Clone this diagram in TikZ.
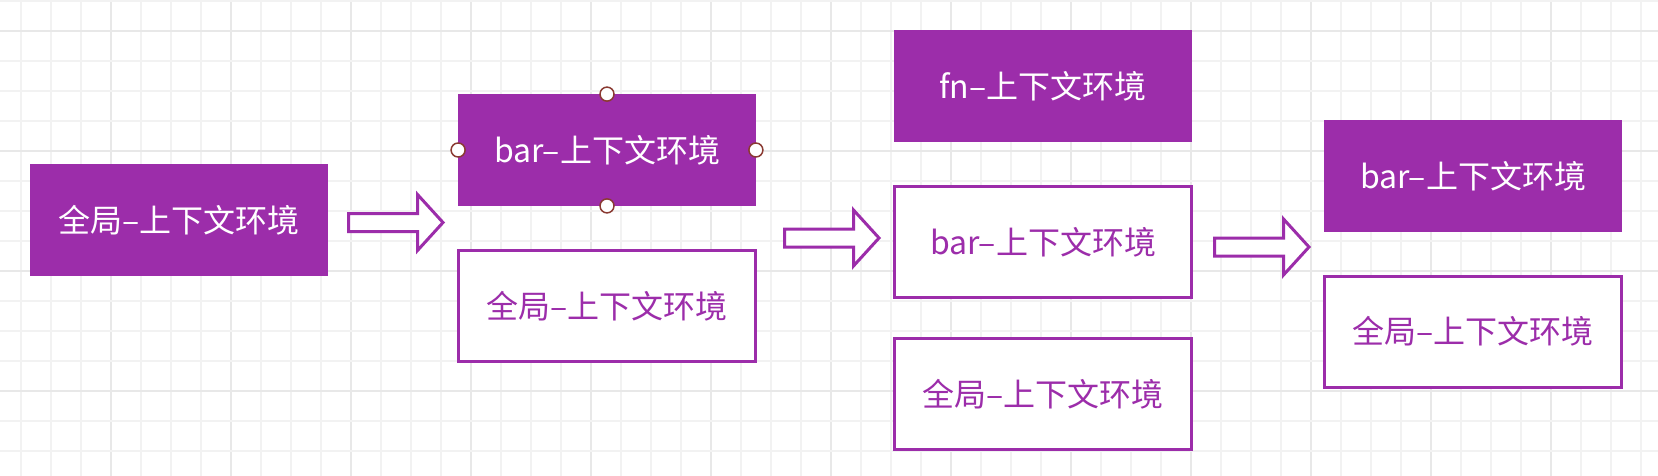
\documentclass[tikz,border=0pt]{standalone}
\usepackage{fontspec}
\newfontfamily\cjk{Noto Sans CJK SC}
\definecolor{pur}{HTML}{9C2DAA}
\definecolor{gridminor}{HTML}{F2F2F2}
\definecolor{gridmajor}{HTML}{E8E8E8}
\definecolor{handle}{HTML}{8A3A32}
\tikzset{
  filledbox/.style={rectangle, fill=pur, draw=pur, line width=0.8pt, minimum width=297pt, minimum height=111pt, inner sep=0pt, text=white, font=\cjk\fontsize{32}{38}\selectfont},
  outlinebox/.style={rectangle, fill=white, draw=pur, line width=3pt, minimum width=297pt, minimum height=111pt, inner sep=0pt, text=pur, font=\cjk\fontsize{32}{38}\selectfont},
  arrowline/.style={draw=pur, fill=white, line width=3pt, line join=miter},
  handlenode/.style={circle, fill=white, draw=handle, line width=1.5pt, minimum size=14pt, inner sep=0pt},
  barrow/.pic={\path[arrowline] (0,-9) -- (69,-9) -- (69,-28) -- (94.5,0) -- (69,28) -- (69,9) -- (0,9) -- cycle;}
}
\begin{document}
\begin{tikzpicture}[x=1pt,y=-1pt]
\fill[white] (0,0) rectangle (1658,476);
\useasboundingbox (0,0) rectangle (1658,476);
% grid
\foreach \k in {0,...,54}{
  \pgfmathtruncatemacro{\m}{mod(\k,4)}
  \ifnum\m=3
    \draw[gridmajor, line width=2pt] ({21+30*\k},0) -- ({21+30*\k},476);
  \else
    \draw[gridminor, line width=2pt] ({21+30*\k},0) -- ({21+30*\k},476);
  \fi
}
\foreach \k in {0,...,15}{
  \pgfmathtruncatemacro{\m}{mod(\k,4)}
  \ifnum\m=1
    \draw[gridmajor, line width=2pt] (0,{1+30*\k}) -- (1658,{1+30*\k});
  \else
    \draw[gridminor, line width=2pt] (0,{1+30*\k}) -- (1658,{1+30*\k});
  \fi
}
% column 1
\node[filledbox] (g1) at (179,220) {全局–上下文环境};
% column 2
\node[filledbox] (b2) at (607,150) {bar–上下文环境};
\node[outlinebox] (g2) at (607,306) {全局–上下文环境};
\node[handlenode] (h1) at (b2.north) {};
\node[handlenode] (h2) at (b2.south) {};
\node[handlenode] (h3) at (b2.west) {};
\node[handlenode] (h4) at (b2.east) {};
% column 3
\node[filledbox] (f3) at (1043,86) {fn–上下文环境};
\node[outlinebox] (b3) at (1043,242) {bar–上下文环境};
\node[outlinebox] (g3) at (1043,394) {全局–上下文环境};
% column 4
\node[filledbox] (b4) at (1473,176) {bar–上下文环境};
\node[outlinebox] (g4) at (1473,331.5) {全局–上下文环境};
% arrows
\coordinate (a1) at (348.5,222.5);
\coordinate (a2) at (784.5,238);
\coordinate (a3) at (1214.5,247);
\pic at (a1) {barrow};
\pic at (a2) {barrow};
\pic at (a3) {barrow};
\end{tikzpicture}
\end{document}
